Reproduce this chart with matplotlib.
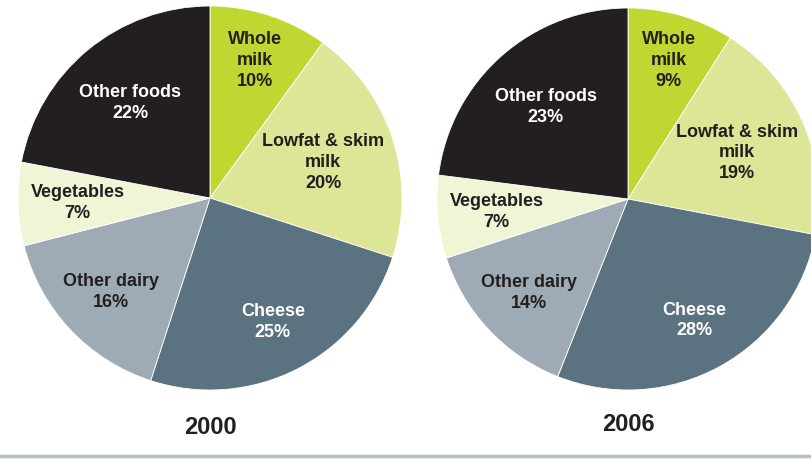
import numpy as np
import matplotlib.pyplot as plt

# Share of dairy fat/calcium by source, 2000 vs 2006 (percent)
categories = ["Whole\nmilk", "Lowfat & skim\nmilk", "Cheese", "Other dairy", "Vegetables", "Other foods"]
shares_2000 = [10, 20, 25, 16, 7, 22]
shares_2006 = [9, 19, 28, 14, 7, 23]
years = ["2000", "2006"]

colors = ["#bfd730", "#dde697", "#5b7380", "#9eabb4", "#f0f5d5", "#231f20"]
text_colors = ["#231f20", "#231f20", "white", "#231f20", "#231f20", "white"]
# how far out (fraction of radius) each label sits along its wedge's mid-angle
label_r = [0.76, 0.62, 0.72, 0.71, 0.69, 0.65]

FONT = ["Liberation Sans", "DejaVu Sans"]
W, H = 812, 460

fig = plt.figure(figsize=(W / 100, H / 100), dpi=100)


def draw_pie(values, cx, cy, r, year, year_y):
    # axes box in pixels -> figure fraction (cy measured from the top)
    ax = fig.add_axes([(cx - r) / W, (H - cy - r) / H, 2 * r / W, 2 * r / H])
    wedges, _ = ax.pie(values, colors=colors, startangle=90, counterclock=False,
                       radius=1, wedgeprops=dict(edgecolor="white", linewidth=0.6))
    ax.set_xlim(-1, 1)
    ax.set_ylim(-1, 1)
    ax.set_axis_off()
    for w, lab, v, tc, d in zip(wedges, categories, values, text_colors, label_r):
        mid = np.deg2rad((w.theta1 + w.theta2) / 2)
        ax.text(d * np.cos(mid), d * np.sin(mid), f"{lab}\n{v}%", ha="center", va="center",
                color=tc, fontsize=13, fontweight="bold", family=FONT, linespacing=1.3)
    fig.text(cx / W, 1 - year_y / H, year, ha="center", va="center",
             fontsize=17, fontweight="bold", family=FONT, color="#231f20")


draw_pie(shares_2000, 210, 199, 192, years[0], 428)
draw_pie(shares_2006, 628, 200, 191, years[1], 425)

# thin rule along the bottom
fig.add_artist(plt.Line2D([0, 1], [1 - 457 / H, 1 - 457 / H], color="#b4c0c7", linewidth=2.5))

fig.savefig("out.png", dpi=100, facecolor="white")
